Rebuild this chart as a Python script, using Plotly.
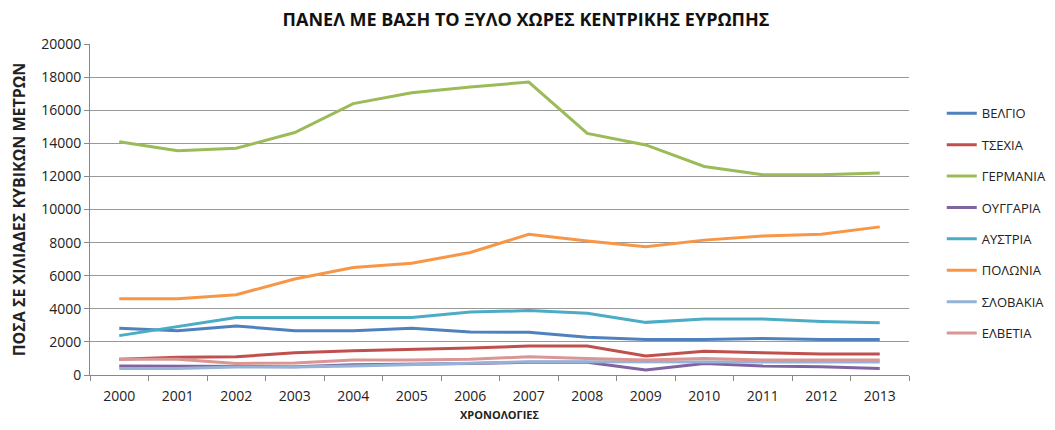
import plotly.graph_objects as go

years = [str(y) for y in range(2000, 2014)]

belgium = [2820, 2680, 2960, 2680, 2680, 2830, 2600, 2580, 2280, 2150, 2150, 2200, 2150, 2150]
czechia = [950, 1070, 1100, 1350, 1470, 1530, 1630, 1750, 1750, 1150, 1430, 1350, 1270, 1270]
germany = [14100, 13550, 13700, 14650, 16400, 17050, 17400, 17700, 14600, 13900, 12600, 12100, 12100, 12200]
hungary = [540, 540, 500, 500, 620, 640, 700, 770, 770, 300, 700, 540, 500, 400]
austria = [2380, 2920, 3480, 3480, 3480, 3480, 3800, 3890, 3730, 3180, 3380, 3380, 3240, 3160]
poland = [4600, 4600, 4850, 5800, 6500, 6750, 7400, 8500, 8100, 7750, 8150, 8400, 8500, 8950]
slovakia = [400, 400, 480, 480, 540, 620, 740, 800, 800, 780, 760, 780, 780, 780]
switzerland = [950, 950, 700, 720, 900, 900, 950, 1100, 1000, 900, 1000, 900, 900, 900]

series = [
    ("ΒΕΛΓΙΟ", belgium, "#4F81BD"),
    ("ΤΣΕΧΙΑ", czechia, "#C0504D"),
    ("ΓΕΡΜΑΝΙΑ", germany, "#9BBB59"),
    ("ΟΥΓΓΑΡΙΑ", hungary, "#8064A2"),
    ("ΑΥΣΤΡΙΑ", austria, "#4BACC6"),
    ("ΠΟΛΩΝΙΑ", poland, "#F79646"),
    ("ΣΛΟΒΑΚΙΑ", slovakia, "#95B3D7"),
    ("ΕΛΒΕΤΙΑ", switzerland, "#D99694"),
]

fig = go.Figure()
for name, values, color in series:
    fig.add_trace(
        go.Scatter(
            x=years,
            y=values,
            mode="lines",
            name=name,
            legendgroup=name,
            line=dict(color=color, width=3),
        )
    )

font = "Open Sans, Noto Sans, sans-serif"
# the page body has an 8px margin, so the figure is a bit smaller than the window
fig.update_layout(
    width=1039,
    height=414,
    paper_bgcolor="white",
    plot_bgcolor="white",
    margin=dict(l=82, r=138, t=36, b=47, autoexpand=False),
    font=dict(family=font, size=13, color="#222"),
    title=dict(
        text="<b>ΠΑΝΕΛ ΜΕ ΒΑΣΗ ΤΟ ΞΥΛΟ ΧΩΡΕΣ ΚΕΝΤΡΙΚΗΣ ΕΥΡΩΠΗΣ</b>",
        x=0.4986,
        xanchor="center",
        y=0.972,
        yanchor="middle",
        font=dict(size=18, color="#111"),
    ),
    showlegend=True,
    legend=dict(
        x=1.04,
        xanchor="left",
        y=0.836,
        yanchor="top",
        font=dict(size=13),
        tracegroupgap=11.5,
        bgcolor="rgba(0,0,0,0)",
    ),
    xaxis=dict(
        type="category",
        title=dict(text="<b>ΧΡΟΝΟΛΟΓΙΕΣ</b>", font=dict(size=11), standoff=8),
        tickfont=dict(size=14),
        ticklabelstandoff=8,
        automargin=False,
        showline=True,
        linecolor="#888",
        linewidth=1,
        ticks="outside",
        tickson="boundaries",
        ticklen=5,
        tickcolor="#888",
        showgrid=False,
        range=[-0.5, 13.5],
    ),
    yaxis=dict(
        title=dict(text="<b>ΠΟΣΑ ΣΕ ΧΙΛΙΑΔΕΣ ΚΥΒΙΚΩΝ ΜΕΤΡΩΝ</b>", font=dict(size=16), standoff=12),
        tickfont=dict(size=14),
        tickformat="d",
        automargin=False,
        range=[0, 20000],
        dtick=2000,
        showline=True,
        linecolor="#888",
        linewidth=1,
        ticks="outside",
        ticklen=5,
        tickcolor="#888",
        showgrid=True,
        gridcolor="#999",
        gridwidth=1,
        zeroline=False,
    ),
)

fig.write_html("out.html")
